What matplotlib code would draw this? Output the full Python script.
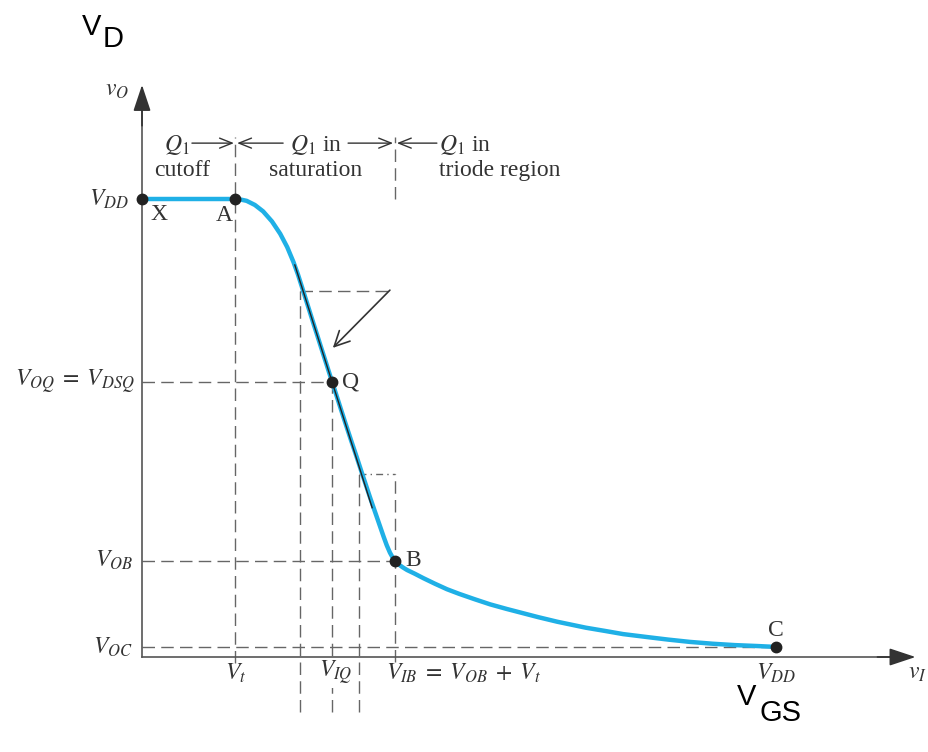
import numpy as np
import matplotlib.pyplot as plt

plt.rcParams['mathtext.fontset'] = 'stix'
plt.rcParams['font.family'] = ['Liberation Serif', 'DejaVu Serif']

# valores del esquema (unidades arbitrarias)
VDD = 10.0
Vt = 1.47
VIQ = 3.0
VIB = 3.99
VOQ = 6.0
VOB = 2.1
VOC = 0.22
tan_x = [2.49, 3.42]     # límites de la aproximación lineal
tan_y = [8.0, 4.0]
tangente_x = [2.41, 3.63]
tangente_y = [8.56, 3.26]

# curva de transferencia
curva_x = [0.0, 1.47, 1.55, 1.65, 1.78, 1.91, 2.05, 2.18, 2.29, 2.39, 2.46, 2.52,
           2.57, 2.7, 2.85, 3.0, 3.1, 3.2, 3.3, 3.39, 3.47, 3.54, 3.6, 3.68, 3.75,
           3.81, 3.86, 3.91, 3.95, 3.99, 4.05, 4.11, 4.18, 4.3, 4.44, 4.62, 4.81,
           5.0, 5.25, 5.49, 5.75, 6.0, 6.25, 6.55, 7.0, 7.3, 7.59, 8.0, 8.3, 8.64,
           9.0, 9.35, 9.7, 10.0]
curva_y = [10.0, 10.0, 9.99, 9.96, 9.87, 9.73, 9.51, 9.24, 8.95, 8.62, 8.35, 8.09,
           7.87, 7.30, 6.65, 6.0, 5.57, 5.14, 4.72, 4.35, 4.01, 3.72, 3.47, 3.15, 2.87,
           2.63, 2.44, 2.28, 2.18, 2.10, 2.02, 1.96, 1.90, 1.82, 1.72, 1.60, 1.48,
           1.38, 1.26, 1.15, 1.05, 0.96, 0.87, 0.77, 0.64, 0.57, 0.50, 0.43, 0.38, 0.33,
           0.29, 0.26, 0.24, 0.22]

puntos = {'X': (0.0, VDD), 'A': (Vt, VDD), 'Q': (VIQ, VOQ), 'B': (VIB, VOB), 'C': (VDD, VOC)}

gris = '#555555'
gtxt = '#333333'
dash = (0, (9, 4.5))

fig = plt.figure(figsize=(9.29, 7.52), dpi=100)
ax = fig.add_axes([0, 0, 1, 1])
ax.set_xlim(-2.24, 12.413)
ax.set_ylim(-2.074, 14.345)
ax.axis('off')

# ejes con flecha
ax.plot([0, 12.0], [0, 0], color=gris, lw=1.2, zorder=2)
ax.plot([0, 0], [0, 12.2], color=gris, lw=1.2, zorder=2)
ax.annotate('', xy=(12.2, 0), xytext=(11.6, 0),
            arrowprops=dict(arrowstyle='-|>,head_length=0.9,head_width=0.3',
                            color='#333333', lw=1.2, shrinkA=0, shrinkB=0, mutation_scale=18))
ax.annotate('', xy=(0, 12.49), xytext=(0, 11.6),
            arrowprops=dict(arrowstyle='-|>,head_length=0.9,head_width=0.3',
                            color='#333333', lw=1.2, shrinkA=0, shrinkB=0, mutation_scale=18))

# líneas de guía discontinuas
kw = dict(color='#666666', lw=1.0, ls=dash, zorder=1)
ax.plot([Vt, Vt], [-0.12, 11.35], **kw)
ax.plot([VIB, VIB], [10.0, 11.35], **kw)
ax.plot([VIB, VIB], [-0.1, tan_y[1]], **kw)
ax.plot([VIQ, VIQ], [-1.2, VOQ], **kw)
ax.plot([tan_x[0], tan_x[0]], [-1.2, tan_y[0]], **kw)
ax.plot([tan_x[1], tan_x[1]], [-1.2, tan_y[1]], **kw)
ax.plot([0, VIQ], [VOQ, VOQ], **kw)
ax.plot([0, VIB], [VOB, VOB], **kw)
ax.plot([0, VDD], [VOC, VOC], **kw)
ax.plot([tan_x[0], 3.91], [tan_y[0], tan_y[0]], **kw)
ax.plot([tan_x[1], VIB], [tan_y[1], tan_y[1]], color='#666666', lw=1.0,
        ls=(0, (5, 3, 1, 3)), zorder=1)

# curva y tangente
ax.plot(curva_x, curva_y, color='#1fb0e6', lw=3.2, solid_capstyle='round',
        solid_joinstyle='round', zorder=3)
ax.plot(tangente_x, tangente_y, color='#222222', lw=1.0, zorder=4)
ax.annotate('', xy=(3.01, 6.75), xytext=(3.91, 8.01),
            arrowprops=dict(arrowstyle='->,head_length=0.6,head_width=0.3',
                            color='#333333', lw=1.2, shrinkA=0, shrinkB=0, mutation_scale=18))

for nombre, (px, py) in puntos.items():
    ax.plot(px, py, 'o', color='#222222', ms=7.5, zorder=5)

fs = 17
off = dict(textcoords='offset pixels', color=gtxt, fontsize=fs)
ax.annotate('X', (0, VDD), xytext=(8, -15), ha='left', va='center', **off)
ax.annotate('A', (Vt, VDD), xytext=(-2, -16), ha='right', va='center', **off)
ax.annotate('Q', (VIQ, VOQ), xytext=(10, 0), ha='left', va='center', **off)
ax.annotate('B', (VIB, VOB), xytext=(10, 0), ha='left', va='center', **off)
ax.annotate('C', (VDD, VOC), xytext=(0, 16), ha='center', va='center', **off)

# etiquetas del eje vertical
ax.annotate(r'$V_{DD}$', (0, VDD), xytext=(-13, 0), ha='right', va='center', **off)
ax.annotate(r'$V_{OQ}\;=\;V_{DSQ}$', (0, VOQ), xytext=(-7, 0), ha='right', va='center', **off)
ax.annotate(r'$V_{OB}$', (0, VOB), xytext=(-9, 0), ha='right', va='center', **off)
ax.annotate(r'$V_{OC}$', (0, VOC), xytext=(-9, 0), ha='right', va='center', **off)
ax.annotate(r'$v_O$', (0, 12.49), xytext=(-25, -6), ha='center', va='center', **off)

# etiquetas del eje horizontal
ax.annotate(r'$V_t$', (Vt, 0), xytext=(0, -16), ha='center', va='center', **off)
ax.annotate(r'$V_{IQ}$', (VIQ, 0), xytext=(4, -16), ha='center', va='center',
            bbox=dict(boxstyle='square,pad=0.05', fc='white', ec='none'), **off)
ax.annotate(r'$V_{IB}\;=\;V_{OB}\;+\;V_t$', (VIB, 0), xytext=(-9, -16), ha='left', va='center', **off)
ax.annotate(r'$V_{DD}$', (VDD, 0), xytext=(0, -16), ha='center', va='center', **off)
ax.annotate(r'$v_I$', (12.2, 0), xytext=(11, -16), ha='right', va='center', **off)

# regiones de operación
y_fl = 11.22
y_t1 = 11.18
y_t2 = 10.63
flecha = dict(arrowstyle='->,head_length=0.5,head_width=0.2', color='#333333',
              lw=1.0, shrinkA=0, shrinkB=0, mutation_scale=18)
ax.annotate('', xy=(Vt - 0.02, y_fl), xytext=(-42, 0), textcoords='offset pixels', arrowprops=flecha)
ax.annotate('', xy=(Vt + 0.03, y_fl), xytext=(46, 0), textcoords='offset pixels', arrowprops=flecha)
ax.annotate('', xy=(VIB - 0.03, y_fl), xytext=(-45, 0), textcoords='offset pixels', arrowprops=flecha)
ax.annotate('', xy=(VIB + 0.03, y_fl), xytext=(40, 0), textcoords='offset pixels', arrowprops=flecha)
ax.annotate(r'$Q_1$', (Vt, y_t1), xytext=(-58, 0), ha='center', va='center', **off)
ax.annotate('cutoff', (Vt, y_t2), xytext=(-53, 0), ha='center', va='center', **off)
ax.annotate(r'$Q_1$ in', (Vt, y_t1), xytext=(81, 0), ha='center', va='center', **off)
ax.annotate('saturation', (Vt, y_t2), xytext=(80, 0), ha='center', va='center', **off)
ax.annotate(r'$Q_1$ in', (VIB, y_t1), xytext=(44, 0), ha='left', va='center', **off)
ax.annotate('triode region', (VIB, y_t2), xytext=(44, 0), ha='left', va='center', **off)

# títulos grandes añadidos
sans = dict(family=['Liberation Sans', 'DejaVu Sans'], fontsize=21, color='black')
fig.text(82 / 929, 1 - 35 / 752, 'V', ha='left', va='baseline', **sans)
fig.text(103 / 929, 1 - 47 / 752, 'D', ha='left', va='baseline', **sans)
fig.text(737 / 929, 1 - 705 / 752, 'V', ha='left', va='baseline', **sans)
fig.text(760 / 929, 1 - 721 / 752, 'GS', ha='left', va='baseline', **sans)

fig.savefig('out.png', dpi=100)
